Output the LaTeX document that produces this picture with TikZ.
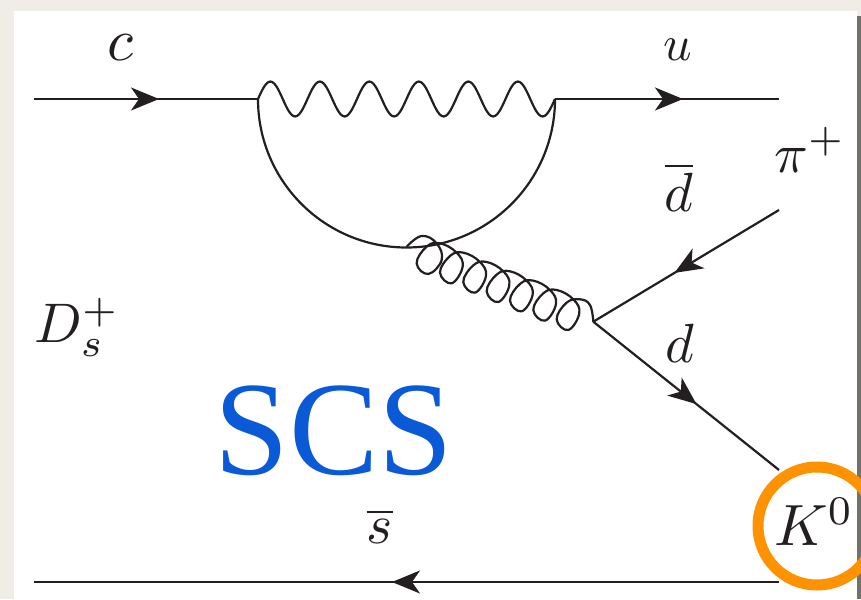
\documentclass[tikz,border=0pt]{standalone}
\usepackage{fontspec}
\newfontfamily\scsfont{Liberation Serif}
\usetikzlibrary{arrows.meta,decorations.markings}
\definecolor{paper}{RGB}{240,237,230}
\definecolor{edgegrey}{RGB}{115,113,108}
\definecolor{scsblue}{RGB}{10,90,215}
\definecolor{ringorange}{RGB}{255,146,0}
\definecolor{inkline}{RGB}{35,31,32}
\tikzset{
  x=1pt,y=-1pt,
  line/.style={draw=inkline,line width=2.2pt},
  fermion/.style={line,postaction={decorate,decoration={markings,
     mark=at position #1 with {\arrow[inkline]{Stealth[length=28pt,width=23pt,inset=8pt]}}}}},
  lab/.style={text=inkline,inner sep=0pt,scale=6},
}
\begin{document}
\begin{tikzpicture}
\useasboundingbox (0,0) rectangle (861,599);
\fill[paper] (0,0) rectangle (861,599);
\fill[white] (14,11) rectangle (857,599);
\fill[edgegrey] (857,16) rectangle (861,599);
\coordinate (c0) at (34,99);
\coordinate (v1) at (258,99);
\coordinate (v2) at (555,99);
\coordinate (u1) at (779,99);
\coordinate (g1) at (406.7,246.7);
\coordinate (g2) at (593.3,321.7);
\coordinate (pi) at (779,210);
\coordinate (k) at (779,470);
\coordinate (s1) at (779,582);
\coordinate (s0) at (34,582);
\draw[fermion=125pt] (c0) -- (v1);
\draw[fermion=128pt] (v2) -- (u1);
\begin{scope}[shift={(v1)}]
\draw[line,line join=round] plot[smooth,domain=0:2160,samples=145] (\x*0.1375,{-17.5*sin(\x)});
\end{scope}
\draw[line] (v1) arc[start angle=180,end angle=360,radius=148.5pt];
\begin{scope}[shift={(240,70)},x=0.3333pt,y=-0.3333pt]
\draw[line] plot[smooth,tension=0.7] coordinates {(g1) (545,498) (590,520) (605,570) (565,612)
 (530,580) (560,530) (600,520) (650,548) (668,590) (635,640)
 (600,608) (630,558) (670,548) (720,576) (738,618) (705,668)
 (670,636) (700,586) (740,576) (790,604) (808,646) (775,696)
 (740,664) (770,614) (810,604) (860,632) (878,674) (845,724)
 (810,692) (840,642) (880,632) (930,660) (948,702) (915,752)
 (880,720) (910,670) (950,660) (1000,688) (1018,730) (985,780)
 (950,748) (980,698) (1020,688) (1050,705) (g2)};
\end{scope}
\draw[fermion=122pt] (pi) -- (g2);
\draw[fermion=132pt] (g2) -- (k);
\draw[fermion=387pt] (s1) -- (s0);
\node[lab] (lc) at (120,48) {$c$};
\node[lab,scale=0.83] (lu) at (678,50) {$u$};
\node[lab,scale=0.93] (lpi) at (810,150) {$\pi^+$};
\node[lab,scale=0.92] (ldb) at (679,187) {$\overline{d}$};
\node[lab,scale=0.92] (ld) at (680,343) {$d$};
\node[lab,scale=0.93] (lD) at (77,327) {$D_s^+$};
\node[lab,scale=0.93] (lsb) at (380,526) {$\overline{s}$};
\node[inner sep=0pt,text=scsblue,font=\scsfont\fontsize{134}{134}\selectfont] (scs) at (334,431) {SCS};
\node[lab,scale=0.97] (lK) at (814,522) {$K^0$};
\draw[ringorange,line width=11pt] (817,526) circle[radius=59pt];
\end{tikzpicture}
\end{document}
